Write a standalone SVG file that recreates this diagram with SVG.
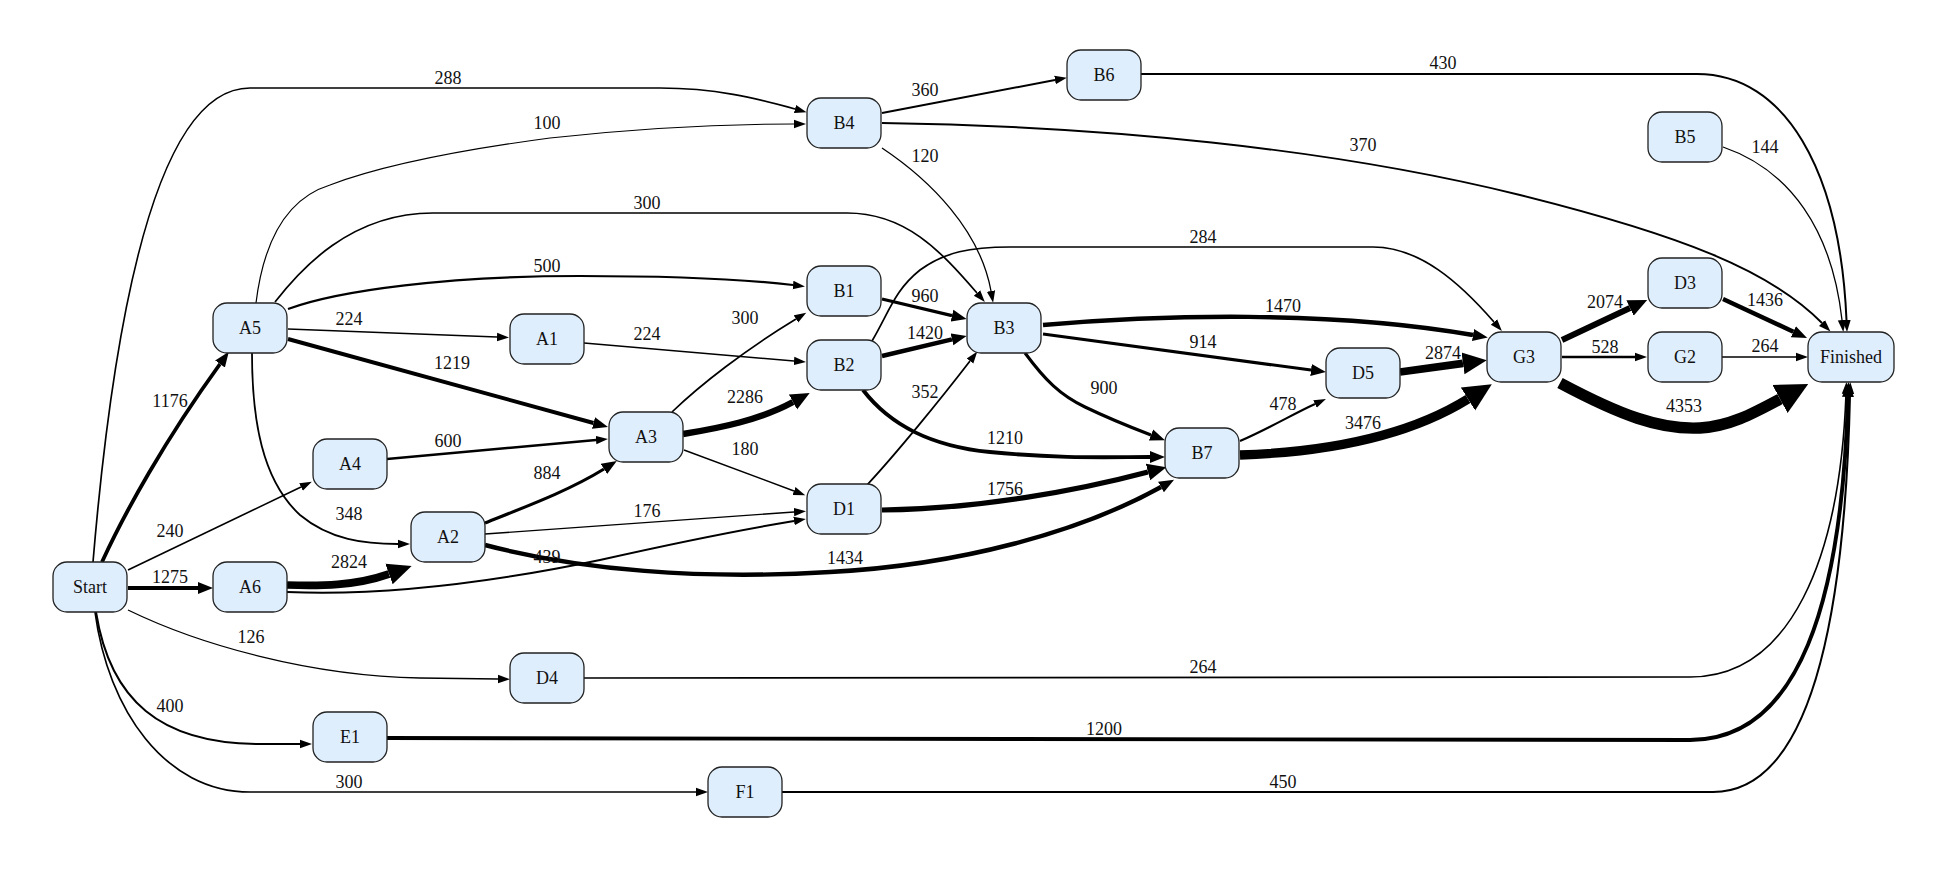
<svg xmlns="http://www.w3.org/2000/svg" width="1950" height="872" viewBox="0 0 1950 872">
<style>
.e{fill:none;stroke:#000;stroke-linejoin:round}
.n rect{fill:#dfeefd;stroke:#222;stroke-width:1.3}
.n text{font-family:"Liberation Serif","Times New Roman",serif;font-size:18px;fill:#111;text-anchor:middle}
.l text{font-family:"Liberation Serif","Times New Roman",serif;font-size:18px;fill:#111;text-anchor:middle}
</style>
<defs>
<marker id="mA" markerUnits="userSpaceOnUse" viewBox="0 -5 13 10" markerWidth="13" markerHeight="10" refX="0" refY="0" orient="auto"><path d="M0,-4.2 L12,0 L0,4.2 z" fill="#000"/></marker>
<marker id="mB" markerUnits="userSpaceOnUse" viewBox="0 -7 16 14" markerWidth="16" markerHeight="14" refX="0" refY="0" orient="auto"><path d="M0,-6 L15,0 L0,6 z" fill="#000"/></marker>
<marker id="mC" markerUnits="userSpaceOnUse" viewBox="0 -9 20 18" markerWidth="20" markerHeight="18" refX="0" refY="0" orient="auto"><path d="M0,-8.5 L19,0 L0,8.5 z" fill="#000"/></marker>
<marker id="mD" markerUnits="userSpaceOnUse" viewBox="0 -12 25 24" markerWidth="25" markerHeight="24" refX="0" refY="0" orient="auto"><path d="M0,-11 L24,0 L0,11 z" fill="#000"/></marker>
<marker id="mE" markerUnits="userSpaceOnUse" viewBox="0 -14 29 28" markerWidth="29" markerHeight="28" refX="0" refY="0" orient="auto"><path d="M0,-13.5 L28,0 L0,13.5 z" fill="#000"/></marker>
<marker id="mF" markerUnits="userSpaceOnUse" viewBox="0 -17 33 34" markerWidth="33" markerHeight="34" refX="0" refY="0" orient="auto"><path d="M0,-16 L32,0 L0,16 z" fill="#000"/></marker>
</defs>
<rect width="1950" height="872" fill="#fff"/>
<g id="connectors">
<path class="e" stroke-width="3.8" marker-end="url(#mB)" d="M102,562 C125,512 165,440 220,364"/>
<path class="e" stroke-width="1.6" marker-end="url(#mA)" d="M128,570 L301,487"/>
<path class="e" stroke-width="4" marker-end="url(#mB)" d="M128,588 L198,588"/>
<path class="e" stroke-width="1.3" marker-end="url(#mA)" d="M128,610 C200,645 310,676 420,678 L498,679"/>
<path class="e" stroke-width="2" marker-end="url(#mA)" d="M96,612 C110,700 160,744 260,744 L300,744"/>
<path class="e" stroke-width="1.7" marker-end="url(#mA)" d="M95,612 C108,710 165,792 250,792 L696,792"/>
<path class="e" stroke-width="1.7" marker-end="url(#mA)" d="M93,562 C115,300 160,88 250,88 L660,88 C715,88 755,98 795,109"/>
<path class="e" stroke-width="1.2" marker-end="url(#mA)" d="M256,303 C264,238 288,198 330,185 C380,166 460,150 550,138 C650,127 730,124 794,124"/>
<path class="e" stroke-width="1.7" marker-end="url(#mA)" d="M275,302 C300,270 350,213 433,213 L847,213 C905,213 940,250 977,293"/>
<path class="e" stroke-width="2.2" marker-end="url(#mA)" d="M288,309 C340,290 450,276 580,276 C680,276 750,280 793,285"/>
<path class="e" stroke-width="1.5" marker-end="url(#mA)" d="M288,329 L497,337"/>
<path class="e" stroke-width="3.9" marker-end="url(#mB)" d="M288,339 L593.5,423"/>
<path class="e" stroke-width="1.8" marker-end="url(#mA)" d="M252,353 C252,420 262,480 300,515 C330,540 365,544 398,544"/>
<path class="e" stroke-width="2.4" marker-end="url(#mA)" d="M387,459 L596,440"/>
<path class="e" stroke-width="7.7" marker-end="url(#mD)" d="M287,585 C320,586 355,586 389,574"/>
<path class="e" stroke-width="2" marker-end="url(#mA)" d="M287,592 C380,596 480,585 600,560 C680,542 740,530 794,521"/>
<path class="e" stroke-width="3.1" marker-end="url(#mB)" d="M485,523 C530,505 570,490 604,469"/>
<path class="e" stroke-width="1.4" marker-end="url(#mA)" d="M485,534 L794,512"/>
<path class="e" stroke-width="4.4" marker-end="url(#mB)" d="M485,545 C580,570 700,580 830,572 C960,565 1080,532 1161,487"/>
<path class="e" stroke-width="1.5" marker-end="url(#mA)" d="M584,343 L794,361"/>
<path class="e" stroke-width="1.7" marker-end="url(#mA)" d="M672,412 C700,385 745,350 796,319"/>
<path class="e" stroke-width="6.4" marker-end="url(#mC)" d="M683,434 C720,428 760,420 793,402"/>
<path class="e" stroke-width="1.4" marker-end="url(#mA)" d="M684,450 L794,491"/>
<path class="e" stroke-width="1.9" marker-end="url(#mA)" d="M882,113 L1055,80"/>
<path class="e" stroke-width="1.9" marker-end="url(#mA)" d="M882,123 C1100,126 1330,148 1520,195 C1680,235 1770,270 1822,323"/>
<path class="e" stroke-width="1.3" marker-end="url(#mA)" d="M882,148 C930,180 980,230 991,291"/>
<path class="e" stroke-width="3.3" marker-end="url(#mB)" d="M882,299 L952,315.6"/>
<path class="e" stroke-width="4.4" marker-end="url(#mB)" d="M882,356 L952,339.4"/>
<path class="e" stroke-width="1.7" marker-end="url(#mA)" d="M872,341 C890,310 895,290 920,270 C945,252 970,247 1010,247 L1373,247 C1420,247 1460,283 1494,322"/>
<path class="e" stroke-width="3.9" marker-end="url(#mB)" d="M863,390 C890,425 930,446 990,452 C1060,459 1110,457 1150,457"/>
<path class="e" stroke-width="1.8" marker-end="url(#mA)" d="M867,485 C895,455 940,400 970,361"/>
<path class="e" stroke-width="5.2" marker-end="url(#mC)" d="M882,510 C980,509 1080,490 1148,472"/>
<path class="e" stroke-width="4.5" marker-end="url(#mB)" d="M1043,325 C1160,315 1330,310 1473,335"/>
<path class="e" stroke-width="3.2" marker-end="url(#mB)" d="M1043,334 C1150,348 1250,362 1311,370"/>
<path class="e" stroke-width="3.1" marker-end="url(#mB)" d="M1025,353 C1045,380 1060,395 1085,407 C1110,419 1130,427 1151,435"/>
<path class="e" stroke-width="2.1" marker-end="url(#mA)" d="M1240,441 C1270,428 1293,414 1315,404"/>
<path class="e" stroke-width="9.3" marker-end="url(#mE)" d="M1240,455 C1330,452 1410,435 1468,399"/>
<path class="e" stroke-width="7.8" marker-end="url(#mD)" d="M1400,372 L1463,363.4"/>
<path class="e" stroke-width="5.9" marker-end="url(#mC)" d="M1562,340 L1630,308"/>
<path class="e" stroke-width="2.3" marker-end="url(#mA)" d="M1562,357 L1635,357"/>
<path class="e" stroke-width="11.4" marker-end="url(#mF)" d="M1560,383 C1620,415 1660,430 1700,428 C1730,426 1752,414 1780,399"/>
<path class="e" stroke-width="4.4" marker-end="url(#mB)" d="M1723,299 L1793.4,331.7"/>
<path class="e" stroke-width="1.6" marker-end="url(#mA)" d="M1722,357 L1796,357"/>
<path class="e" stroke-width="2" marker-end="url(#mA)" d="M1141,74 L1697,74 C1785,74 1840,170 1846.5,320"/>
<path class="e" stroke-width="1.3" marker-end="url(#mA)" d="M1723,147 C1790,170 1832,230 1842,320"/>
<path class="e" stroke-width="1.6" marker-end="url(#mA)" d="M584,678 L1690,677 C1790,677 1840,560 1846,394"/>
<path class="e" stroke-width="3.9" marker-end="url(#mB)" d="M387,738 L1690,740 C1800,740 1842,600 1848,397"/>
<path class="e" stroke-width="2.1" marker-end="url(#mA)" d="M782,792 L1713,792 C1810,792 1845,620 1850,394"/>
</g>
<g id="labels" class="l">
<text x="448" y="84">288</text>
<text x="547" y="129">100</text>
<text x="647" y="209">300</text>
<text x="547" y="272">500</text>
<text x="349" y="325">224</text>
<text x="452" y="369">1219</text>
<text x="170" y="407">1176</text>
<text x="448" y="447">600</text>
<text x="170" y="537">240</text>
<text x="349" y="520">348</text>
<text x="170" y="583">1275</text>
<text x="349" y="568">2824</text>
<text x="251" y="643">126</text>
<text x="170" y="712">400</text>
<text x="349" y="788">300</text>
<text x="547" y="479">884</text>
<text x="647" y="517">176</text>
<text x="547" y="563">439</text>
<text x="845" y="564">1434</text>
<text x="647" y="340">224</text>
<text x="745" y="324">300</text>
<text x="745" y="403">2286</text>
<text x="745" y="455">180</text>
<text x="925" y="96">360</text>
<text x="925" y="162">120</text>
<text x="925" y="302">960</text>
<text x="925" y="339">1420</text>
<text x="925" y="398">352</text>
<text x="1363" y="151">370</text>
<text x="1203" y="243">284</text>
<text x="1283" y="312">1470</text>
<text x="1203" y="348">914</text>
<text x="1104" y="394">900</text>
<text x="1005" y="444">1210</text>
<text x="1005" y="495">1756</text>
<text x="1283" y="410">478</text>
<text x="1363" y="429">3476</text>
<text x="1443" y="359">2874</text>
<text x="1443" y="69">430</text>
<text x="1203" y="673">264</text>
<text x="1104" y="735">1200</text>
<text x="1283" y="788">450</text>
<text x="1605" y="308">2074</text>
<text x="1605" y="353">528</text>
<text x="1684" y="412">4353</text>
<text x="1765" y="306">1436</text>
<text x="1765" y="352">264</text>
<text x="1765" y="153">144</text>
</g>
<g id="Start" class="n"><rect x="53" y="562" width="74" height="50" rx="14"/><text x="90" y="593">Start</text></g>
<g id="A5" class="n"><rect x="213" y="303" width="74" height="50" rx="14"/><text x="250" y="334">A5</text></g>
<g id="A6" class="n"><rect x="213" y="562" width="74" height="50" rx="14"/><text x="250" y="593">A6</text></g>
<g id="A4" class="n"><rect x="313" y="439" width="74" height="50" rx="14"/><text x="350" y="470">A4</text></g>
<g id="E1" class="n"><rect x="313" y="712" width="74" height="50" rx="14"/><text x="350" y="743">E1</text></g>
<g id="A2" class="n"><rect x="411" y="512" width="74" height="50" rx="14"/><text x="448" y="543">A2</text></g>
<g id="A1" class="n"><rect x="510" y="314" width="74" height="50" rx="14"/><text x="547" y="345">A1</text></g>
<g id="D4" class="n"><rect x="510" y="653" width="74" height="50" rx="14"/><text x="547" y="684">D4</text></g>
<g id="A3" class="n"><rect x="609" y="412" width="74" height="50" rx="14"/><text x="646" y="443">A3</text></g>
<g id="F1" class="n"><rect x="708" y="767" width="74" height="50" rx="14"/><text x="745" y="798">F1</text></g>
<g id="B4" class="n"><rect x="807" y="98" width="74" height="50" rx="14"/><text x="844" y="129">B4</text></g>
<g id="B1" class="n"><rect x="807" y="266" width="74" height="50" rx="14"/><text x="844" y="297">B1</text></g>
<g id="B2" class="n"><rect x="807" y="340" width="74" height="50" rx="14"/><text x="844" y="371">B2</text></g>
<g id="D1" class="n"><rect x="807" y="484" width="74" height="50" rx="14"/><text x="844" y="515">D1</text></g>
<g id="B3" class="n"><rect x="967" y="303" width="74" height="50" rx="14"/><text x="1004" y="334">B3</text></g>
<g id="B6" class="n"><rect x="1067" y="50" width="74" height="50" rx="14"/><text x="1104" y="81">B6</text></g>
<g id="B7" class="n"><rect x="1165" y="428" width="74" height="50" rx="14"/><text x="1202" y="459">B7</text></g>
<g id="D5" class="n"><rect x="1326" y="348" width="74" height="50" rx="14"/><text x="1363" y="379">D5</text></g>
<g id="G3" class="n"><rect x="1487" y="332" width="74" height="50" rx="14"/><text x="1524" y="363">G3</text></g>
<g id="B5" class="n"><rect x="1648" y="112" width="74" height="50" rx="14"/><text x="1685" y="143">B5</text></g>
<g id="D3" class="n"><rect x="1648" y="258" width="74" height="50" rx="14"/><text x="1685" y="289">D3</text></g>
<g id="G2" class="n"><rect x="1648" y="332" width="74" height="50" rx="14"/><text x="1685" y="363">G2</text></g>
<g id="Finished" class="n"><rect x="1808" y="332" width="86" height="50" rx="14"/><text x="1851" y="363">Finished</text></g>
</svg>
